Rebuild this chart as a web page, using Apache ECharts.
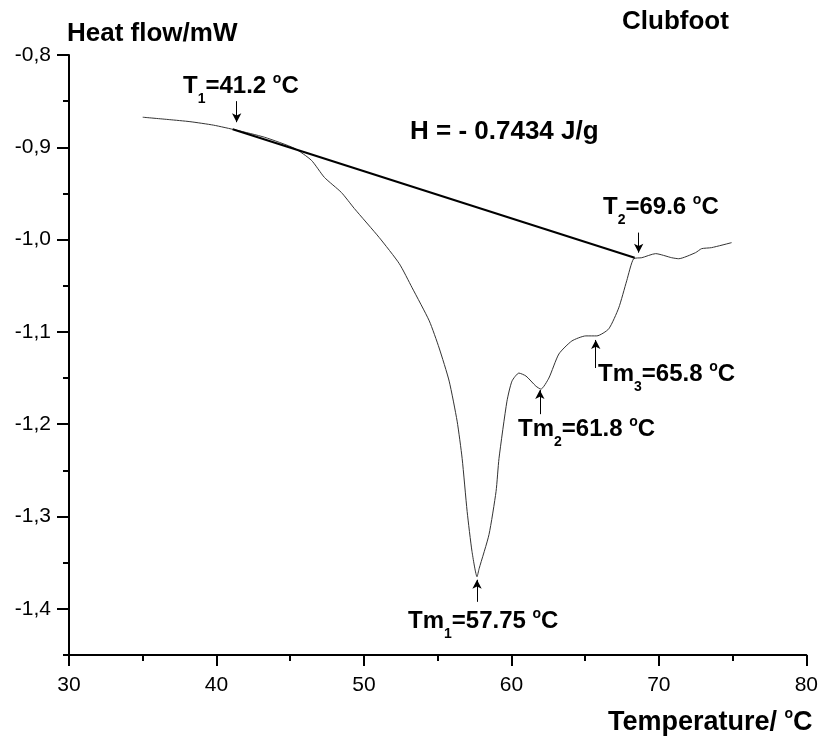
<!DOCTYPE html>
<html>
<head>
<meta charset="utf-8">
<script src="https://cdn.jsdelivr.net/npm/echarts@6/dist/echarts.min.js"></script>
<style>
  html, body { margin: 0; padding: 0; background: #fff; }
  #dsc { width: 821px; height: 739px; }
</style>
</head>
<body>
<div id="dsc"></div>
<script>
// DSC trace (temperature in C, heat flow in mW)
const temp = [35.0, 36.8, 38.2, 39.8, 41.37, 43.26, 45.29, 46.44, 47.32, 48.47, 49.35, 51.04,
  52.40, 53.27, 54.43, 55.10, 55.78, 56.32, 56.66, 57.00, 57.33, 57.67, 57.81, 58.48, 58.96,
  59.16, 59.70, 60.04, 60.51, 60.99, 61.66, 62.00, 62.54, 63.22, 64.10, 65.05, 65.79, 66.60,
  67.28, 67.82, 68.29, 68.84, 69.78, 70.87, 71.34, 72.49, 72.90, 73.57, 74.93]
const heatFlow = [-0.8674, -0.8700, -0.8722, -0.8760, -0.8815, -0.8891, -0.9011, -0.9141, -0.9326,
  -0.9489, -0.9663, -0.9978, -1.0261, -1.0522, -1.0880, -1.1174, -1.1533, -1.1967, -1.2370,
  -1.2946, -1.3380, -1.3652, -1.3565, -1.3196, -1.2728, -1.2370, -1.1750, -1.1533, -1.1446,
  -1.1478, -1.1587, -1.1620, -1.1500, -1.1239, -1.1098, -1.1043, -1.1043, -1.0967, -1.0739,
  -1.0446, -1.0207, -1.0196, -1.0152, -1.0196, -1.0207, -1.0141, -1.0098, -1.0087, -1.0033]

// straight baseline T1 -> T2
const baseTemp = [41.1, 68.36]
const baseFlow = [-0.8804, -1.0196]

// arrows: T1, T2, Tm3, Tm2, Tm1
const arrowTemp = [41.37, 68.63, 65.72, 61.93, 57.67]
const arrowFrom = [-0.850, -0.9924, -1.1391, -1.1891, -1.3924]
const arrowTo = [-0.8728, -1.0141, -1.1087, -1.1630, -1.3685]

const yMajor = [-1.4, -1.3, -1.2, -1.1, -1.0, -0.9, -0.8]
const yMinor = [-1.45, -1.35, -1.25, -1.15, -1.05, -0.95, -0.85]

const FONT = '"Liberation Sans", Arial, sans-serif'

const curve = temp.map((t, i) => [t, heatFlow[i]])
const baseline = baseTemp.map((t, i) => [t, baseFlow[i]])
const arrows = arrowTemp.map((t, i) => [{ coord: [t, arrowFrom[i]] }, { coord: [t, arrowTo[i]] }])

function part(size, padTop) {
  return { fontSize: size, fontWeight: 'bold', fontFamily: FONT, fill: '#000',
    padding: [padTop, 0, 0, 0], verticalAlign: 'top' }
}
const rich = {
  m: part(24, 2),   // annotation text
  h: part(26, 2),   // titles
  n: part(27, 2),   // x axis name
  b: part(14, 20),  // subscript
  p: part(14, 0)    // superscript
}

function label(text, x, y) {
  return {
    type: 'text', x: x, y: y, silent: true,
    style: { text: text, rich: rich, fill: '#000', align: 'left', verticalAlign: 'top',
      fontSize: 24, fontWeight: 'bold', fontFamily: FONT }
  }
}

const chart = echarts.init(document.getElementById('dsc'))

const option = {
  animation: false,
  backgroundColor: '#fff',
  grid: { left: 69, right: 13, top: 55, bottom: 84 },
  xAxis: {
    type: 'value', min: 30, max: 80, interval: 10,
    axisLine: { lineStyle: { color: '#000', width: 2 } },
    axisTick: { length: 11, lineStyle: { color: '#000', width: 2 } },
    minorTick: { show: true, splitNumber: 2, length: 6, lineStyle: { color: '#000', width: 2 } },
    axisLabel: { color: '#000', fontSize: 21, fontFamily: FONT, margin: 20 },
    splitLine: { show: false }
  },
  yAxis: [{
    type: 'value', min: -1.45, max: -0.8,
    axisLine: { show: true, lineStyle: { color: '#000', width: 2 } },
    axisTick: { show: true, length: 12, customValues: yMajor, lineStyle: { color: '#000', width: 2 } },
    axisLabel: { color: '#000', fontSize: 21, fontFamily: FONT, margin: 18, customValues: yMajor,
      formatter: v => v.toFixed(1).replace('.', ',') },
    splitLine: { show: false }
  }, {
    type: 'value', min: -1.45, max: -0.8, position: 'left',
    axisLine: { show: false },
    axisTick: { show: true, length: 6, customValues: yMinor, lineStyle: { color: '#000', width: 2 } },
    axisLabel: { show: false },
    splitLine: { show: false }
  }],
  series: [{
    type: 'line', data: curve, showSymbol: false, silent: true, smooth: 0.2,
    lineStyle: { color: '#333', width: 1 },
    markLine: {
      silent: true, symbol: ['none', 'arrow'], symbolSize: [7, 9],
      lineStyle: { color: '#000', width: 1, type: 'solid' },
      label: { show: false },
      data: arrows
    }
  }, {
    type: 'line', data: baseline, showSymbol: false, silent: true,
    lineStyle: { color: '#000', width: 2 }
  }],
  graphic: [
    label('{h|Heat flow/mW}', 67, 19),
    label('{h|Clubfoot}', 622, 7),
    label('{m|T}{b|1}{m|=41.2 }{p|o}{m|C}', 183, 72),
    label('{h|H = - 0.7434 J/g}', 410, 117),
    label('{m|T}{b|2}{m|=69.6 }{p|o}{m|C}', 603, 193),
    label('{m|Tm}{b|3}{m|=65.8 }{p|o}{m|C}', 598, 360),
    label('{m|Tm}{b|2}{m|=61.8 }{p|o}{m|C}', 518, 415),
    label('{m|Tm}{b|1}{m|=57.75 }{p|o}{m|C}', 408, 607),
    label('{n|Temperature/ }{p|o}{n|C}', 608, 707)
  ]
}

chart.setOption(option)
window.addEventListener('resize', chart.resize)
</script>
</body>
</html>
